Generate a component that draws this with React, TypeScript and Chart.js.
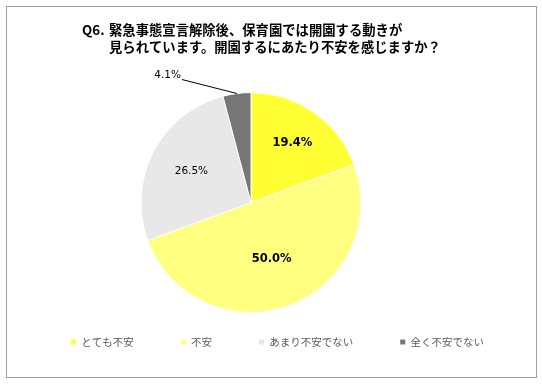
import React, { useEffect, useRef } from "react";
import { Chart, registerables } from "chart.js";

Chart.register(...registerables);

// ---- data ----
const TITLE_PREFIX = "Q6.";
const TITLE_LINES = [
  "緊急事態宣言解除後、保育園では開園する動きが",
  "見られています。開園するにあたり不安を感じますか？",
];
const CATEGORIES = ["とても不安", "不安", "あまり不安でない", "全く不安でない"];
const VALUES = [19.4, 50.0, 26.5, 4.1];
const COLORS = ["#FFFF33", "#FFFF80", "#E8E8E8", "#767676"];

// label styling per slice (radial fraction; null = outside with leader line)
const LABEL_FRACTIONS: (number | null)[] = [0.658, 0.545, 0.611, null];
const LABEL_BOLD = [true, true, false, false];

const W = 542;
const H = 386;
const OX = 40; // canvas extends this far to the left of the page
const CW = W + OX;

const framePlugin = {
  id: "frame",
  beforeDraw(chart: any) {
    const ctx = chart.ctx;
    ctx.save();
    ctx.fillStyle = "#FFFFFF";
    ctx.fillRect(0, 0, CW, H);
    ctx.strokeStyle = "#A0A0A0";
    ctx.lineWidth = 1;
    ctx.strokeRect(OX + 6.5, 6.5, 530, 371);
    ctx.restore();
  },
};

const titlePlugin = {
  id: "customTitle",
  afterDraw(chart: any) {
    const ctx = chart.ctx;
    ctx.save();
    ctx.fillStyle = "#000000";
    ctx.font = "bold 13.33px 'Noto Sans CJK JP'";
    ctx.textBaseline = "middle";
    ctx.textAlign = "left";
    ctx.fillText(TITLE_PREFIX, OX + 82, 30);
    ctx.fillText(TITLE_LINES[0], OX + 109, 30);
    ctx.fillText(TITLE_LINES[1], OX + 109, 46.5);
    ctx.restore();
  },
};

const labelPlugin = {
  id: "sliceLabels",
  afterDatasetsDraw(chart: any) {
    const meta = chart.getDatasetMeta(0);
    const ctx = chart.ctx;
    meta.data.forEach((arc: any, i: number) => {
      const { x, y, startAngle, endAngle, outerRadius } = arc.getProps(
        ["x", "y", "startAngle", "endAngle", "outerRadius"],
        true
      );
      const mid = (startAngle + endAngle) / 2;
      const text = VALUES[i].toFixed(1) + "%";
      ctx.save();
      ctx.fillStyle = "#000000";
      ctx.textBaseline = "middle";
      const f = LABEL_FRACTIONS[i];
      if (f != null) {
        ctx.font = LABEL_BOLD[i]
          ? "bold 11.5px 'DejaVu Sans'"
          : "10.5px 'DejaVu Sans'";
        ctx.textAlign = "center";
        ctx.fillText(
          text,
          x + Math.cos(mid) * outerRadius * f,
          y + Math.sin(mid) * outerRadius * f
        );
      } else {
        const ex = x + Math.cos(mid) * outerRadius;
        const ey = y + Math.sin(mid) * outerRadius;
        const lx = ex - 55;
        const ly = ey - 14;
        ctx.strokeStyle = "#000000";
        ctx.lineWidth = 1;
        ctx.beginPath();
        ctx.moveTo(ex, ey);
        ctx.lineTo(lx, ly);
        ctx.stroke();
        ctx.font = "10.5px 'DejaVu Sans'";
        ctx.textAlign = "right";
        ctx.fillText(text, lx - 1, ly - 4);
      }
      ctx.restore();
    });
  },
};

export default function App() {
  const ref = useRef<HTMLCanvasElement | null>(null);

  useEffect(() => {
    if (!ref.current) return;
    const defaultGen = (Chart as any).overrides.pie.plugins.legend.labels
      .generateLabels;
    const chart = new Chart(ref.current, {
      type: "pie",
      data: {
        labels: CATEGORIES,
        datasets: [
          {
            data: VALUES,
            backgroundColor: COLORS,
            borderColor: "#FFFFFF",
            borderWidth: 1,
          },
        ],
      },
      options: {
        responsive: false,
        animation: false,
        devicePixelRatio: 1,
        radius: 110,
        layout: {
          padding: { left: 11, right: 11, top: 115.33, bottom: 28.67 },
        },
        plugins: {
          legend: {
            position: "bottom",
            align: "end",
            labels: {
              boxWidth: 5,
              boxHeight: 5,
              padding: 47,
              color: "#595959",
              font: { family: "'Noto Sans CJK JP'", size: 10.5 },
              generateLabels: (c: any) =>
                defaultGen(c).map((l: any) => ({ ...l, lineWidth: 0 })),
            },
          },
          tooltip: { enabled: false },
          title: { display: false },
        },
      } as any,
      plugins: [framePlugin, titlePlugin, labelPlugin],
    });
    return () => chart.destroy();
  }, []);

  return (
    <div
      style={{
        position: "fixed",
        left: -OX,
        top: 0,
        width: CW,
        height: H,
        background: "#FFFFFF",
      }}
    >
      <canvas
        ref={ref}
        width={CW}
        height={H}
        style={{ width: CW, height: H, display: "block" }}
      />
    </div>
  );
}
